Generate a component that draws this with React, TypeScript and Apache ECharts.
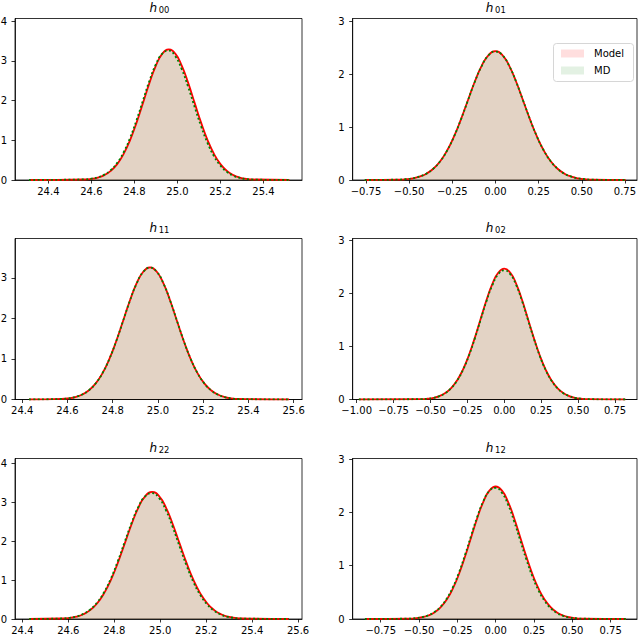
import { useEffect, useRef } from 'react';
import * as echarts from 'echarts';

// panel keys, row by row
const panelKeys = ['00', '01', '11', '02', '22', '12'];

// h00
const xs00 = [24.31, 24.57, 24.6, 24.63, 24.66, 24.69, 24.72, 24.75, 24.78, 24.81, 24.84, 24.87, 24.9, 24.93, 24.96, 24.99, 25.02, 25.05, 25.08, 25.11, 25.14, 25.17, 25.2, 25.23, 25.26, 25.29, 25.32, 25.35, 25.52];
const model00 = [0, 0.013, 0.029, 0.062, 0.123, 0.23, 0.401, 0.657, 1.007, 1.446, 1.944, 2.447, 2.885, 3.184, 3.29, 3.184, 2.885, 2.447, 1.944, 1.446, 1.007, 0.657, 0.401, 0.23, 0.123, 0.062, 0.029, 0.013, 0];
const md00 = [0, 0.015, 0.033, 0.069, 0.135, 0.25, 0.432, 0.7, 1.063, 1.51, 2.009, 2.503, 2.919, 3.187, 3.26, 3.118, 2.793, 2.343, 1.84, 1.353, 0.931, 0.6, 0.362, 0.205, 0.108, 0.054, 0.025, 0.011, 0];

// h01
const xs01 = [-0.757, -0.56, -0.52, -0.48, -0.44, -0.4, -0.36, -0.32, -0.28, -0.24, -0.2, -0.16, -0.12, -0.08, -0.04, 0, 0.04, 0.08, 0.12, 0.16, 0.2, 0.24, 0.28, 0.32, 0.36, 0.4, 0.44, 0.48, 0.52, 0.56, 0.754];
const model01 = [0, 0.007, 0.015, 0.032, 0.064, 0.12, 0.213, 0.355, 0.558, 0.825, 1.149, 1.507, 1.861, 2.163, 2.368, 2.44, 2.368, 2.163, 1.861, 1.507, 1.149, 0.825, 0.558, 0.355, 0.213, 0.12, 0.064, 0.032, 0.015, 0.007, 0];
const md01 = [0, 0.007, 0.016, 0.033, 0.065, 0.121, 0.214, 0.356, 0.558, 0.824, 1.147, 1.504, 1.857, 2.158, 2.362, 2.434, 2.364, 2.161, 1.86, 1.507, 1.15, 0.826, 0.559, 0.355, 0.213, 0.119, 0.063, 0.031, 0.015, 0.006, 0];

// h11
const xs11 = [24.43, 24.575, 24.605, 24.635, 24.665, 24.695, 24.725, 24.755, 24.785, 24.815, 24.845, 24.875, 24.905, 24.935, 24.965, 24.995, 25.025, 25.055, 25.085, 25.115, 25.145, 25.175, 25.205, 25.235, 25.265, 25.295, 25.325, 25.355, 25.58];
const model11 = [0, 0.013, 0.029, 0.061, 0.122, 0.228, 0.398, 0.651, 0.998, 1.433, 1.927, 2.425, 2.858, 3.155, 3.26, 3.155, 2.858, 2.425, 1.927, 1.433, 0.998, 0.651, 0.398, 0.228, 0.122, 0.061, 0.029, 0.013, 0];
const md11 = [0, 0.014, 0.03, 0.063, 0.124, 0.23, 0.4, 0.652, 0.998, 1.432, 1.925, 2.422, 2.853, 3.15, 3.255, 3.152, 2.857, 2.426, 1.929, 1.435, 1.0, 0.652, 0.398, 0.227, 0.121, 0.06, 0.028, 0.012, 0];

// h02
const xs02 = [-0.985, -0.56, -0.52, -0.48, -0.44, -0.4, -0.36, -0.32, -0.28, -0.24, -0.2, -0.16, -0.12, -0.08, -0.04, 0, 0.04, 0.08, 0.12, 0.16, 0.2, 0.24, 0.28, 0.32, 0.36, 0.4, 0.44, 0.48, 0.52, 0.56, 0.82];
const model02 = [0, 0.007, 0.015, 0.032, 0.065, 0.122, 0.216, 0.36, 0.565, 0.835, 1.164, 1.526, 1.884, 2.19, 2.397, 2.47, 2.397, 2.19, 1.884, 1.526, 1.164, 0.835, 0.565, 0.36, 0.216, 0.122, 0.065, 0.032, 0.015, 0.007, 0];
const md02 = [0, 0.007, 0.015, 0.032, 0.064, 0.12, 0.213, 0.355, 0.558, 0.825, 1.149, 1.507, 1.861, 2.163, 2.368, 2.44, 2.368, 2.163, 1.861, 1.507, 1.149, 0.825, 0.558, 0.355, 0.213, 0.12, 0.064, 0.032, 0.015, 0.007, 0];

// h22
const xs22 = [24.43, 24.575, 24.605, 24.635, 24.665, 24.695, 24.725, 24.755, 24.785, 24.815, 24.845, 24.875, 24.905, 24.935, 24.965, 24.995, 25.025, 25.055, 25.085, 25.115, 25.145, 25.175, 25.205, 25.235, 25.265, 25.295, 25.325, 25.355, 25.56];
const model22 = [0, 0.013, 0.029, 0.061, 0.122, 0.228, 0.399, 0.653, 1.001, 1.438, 1.933, 2.433, 2.867, 3.164, 3.27, 3.164, 2.867, 2.433, 1.933, 1.438, 1.001, 0.653, 0.399, 0.228, 0.122, 0.061, 0.029, 0.013, 0];
const md22 = [0, 0.014, 0.031, 0.066, 0.131, 0.242, 0.421, 0.683, 1.04, 1.482, 1.977, 2.469, 2.887, 3.161, 3.24, 3.11, 2.796, 2.353, 1.854, 1.368, 0.944, 0.611, 0.37, 0.21, 0.111, 0.055, 0.026, 0.012, 0];

// h12
const xs12 = [-0.853, -0.56, -0.52, -0.48, -0.44, -0.4, -0.36, -0.32, -0.28, -0.24, -0.2, -0.16, -0.12, -0.08, -0.04, 0, 0.04, 0.08, 0.12, 0.16, 0.2, 0.24, 0.28, 0.32, 0.36, 0.4, 0.44, 0.48, 0.52, 0.56, 0.85];
const model12 = [0, 0.007, 0.015, 0.033, 0.065, 0.122, 0.217, 0.362, 0.568, 0.84, 1.171, 1.535, 1.895, 2.203, 2.411, 2.485, 2.411, 2.203, 1.895, 1.535, 1.171, 0.84, 0.568, 0.362, 0.217, 0.122, 0.065, 0.033, 0.015, 0.007, 0];
const md12 = [0, 0.007, 0.017, 0.035, 0.07, 0.13, 0.229, 0.38, 0.592, 0.869, 1.203, 1.565, 1.919, 2.214, 2.406, 2.46, 2.369, 2.148, 1.834, 1.474, 1.115, 0.795, 0.533, 0.337, 0.2, 0.112, 0.059, 0.029, 0.014, 0.006, 0];

// tick labels
const xTicksA = [24.4, 24.6, 24.8, 25.0, 25.2, 25.4];
const xTicksB = [24.4, 24.6, 24.8, 25.0, 25.2, 25.4, 25.6];
const xTicksC = [-0.75, -0.5, -0.25, 0, 0.25, 0.5, 0.75];
const xTicksD = [-1, -0.75, -0.5, -0.25, 0, 0.25, 0.5, 0.75];
const yTicks4 = [0, 1, 2, 3, 4];
const yTicks3 = [0, 1, 2, 3];

const legendNames = ['Model', 'MD'];

const MODEL_FILL = 'rgba(255,0,0,0.13)';
const MD_FILL = 'rgba(0,128,0,0.11)';
const FONT = 'DejaVu Sans';

const panels = [
  { xs: xs00, model: model00, md: md00, xMin: 24.245, xMax: 25.579, yMax: 4.07, xTicks: xTicksA, yTicks: yTicks4, dec: 1 },
  { xs: xs01, model: model01, md: md01, xMin: -0.827, xMax: 0.82, yMax: 3.06, xTicks: xTicksC, yTicks: yTicks3, dec: 2 },
  { xs: xs11, model: model11, md: md11, xMin: 24.368, xMax: 25.637, yMax: 3.975, xTicks: xTicksB, yTicks: yTicks3, dec: 1 },
  { xs: xs02, model: model02, md: md02, xMin: -1.027, xMax: 0.899, yMax: 3.04, xTicks: xTicksD, yTicks: yTicks3, dec: 2 },
  { xs: xs22, model: model22, md: md22, xMin: 24.368, xMax: 25.617, yMax: 4.13, xTicks: xTicksB, yTicks: yTicks4, dec: 1 },
  { xs: xs12, model: model12, md: md12, xMin: -0.933, xMax: 0.922, yMax: 3.01, xTicks: xTicksC, yTicks: yTicks3, dec: 2 },
];

const colLeft = [15, 352.7];
const colWidth = [287, 284.3];
const rowTop = [18.5, 238.5, 458.5];
const rowHeight = [161.5, 161, 160.5];

const fmt = (d: number) => (v: number) => {
  const s = Math.abs(v).toFixed(d);
  return v < -1e-9 ? '\u2212' + s : s;
};

function buildOption(): echarts.EChartsOption {
  const grid: any[] = [];
  const xAxis: any[] = [];
  const yAxis: any[] = [];
  const series: any[] = [];
  const graphic: any[] = [];

  panels.forEach((p, i) => {
    const col = i % 2;
    const row = Math.floor(i / 2);
    const left = colLeft[col];
    const top = rowTop[row];
    grid.push({
      left,
      top,
      width: colWidth[col],
      height: rowHeight[row],
      show: true,
      borderColor: '#000',
      borderWidth: 0.8,
      backgroundColor: 'transparent',
      containLabel: false,
      outerBoundsMode: 'none',
    });
    const tickStyle = { color: '#000', width: 0.8 };
    xAxis.push({
      type: 'value',
      gridIndex: i,
      min: p.xMin,
      max: p.xMax,
      splitLine: { show: false },
      axisLine: { show: true, onZero: false, lineStyle: tickStyle },
      axisTick: { show: true, length: 3.5, lineStyle: tickStyle, customValues: p.xTicks },
      axisLabel: {
        customValues: p.xTicks,
        formatter: fmt(p.dec),
        fontSize: 10,
        fontFamily: FONT,
        color: '#000',
        margin: 6,
      },
    });
    yAxis.push({
      type: 'value',
      gridIndex: i,
      min: 0,
      max: p.yMax,
      splitLine: { show: false },
      axisLine: { show: true, onZero: false, lineStyle: tickStyle },
      axisTick: { show: true, length: 3.5, lineStyle: tickStyle, customValues: p.yTicks },
      axisLabel: {
        customValues: p.yTicks,
        formatter: (v: number) => String(Math.round(v)),
        fontSize: 10,
        fontFamily: FONT,
        color: '#000',
        margin: 8,
      },
    });

    const modelData = p.xs.map((x, j) => [x, p.model[j]]);
    const mdData = p.xs.map((x, j) => [x, p.md[j]]);
    const base = {
      type: 'line',
      xAxisIndex: i,
      yAxisIndex: i,
      symbol: 'none',
      smooth: 0.5,
      silent: true,
    };
    series.push({
      ...base,
      name: 'Model',
      data: modelData,
      lineStyle: { width: 0, opacity: 0 },
      areaStyle: { color: MODEL_FILL, opacity: 1 },
      z: 1,
    });
    series.push({
      ...base,
      name: 'MD',
      data: mdData,
      lineStyle: { width: 0, opacity: 0 },
      areaStyle: { color: MD_FILL, opacity: 1 },
      z: 2,
    });
    series.push({
      ...base,
      name: 'Model KDE',
      data: modelData,
      lineStyle: { color: '#ff0000', width: 1.8 },
      z: 3,
    });
    series.push({
      ...base,
      name: 'MD KDE',
      data: mdData,
      lineStyle: { color: '#008000', width: 1.8, type: [2, 2.4] },
      z: 4,
    });

    // title h_{ij}
    const cx = left + colWidth[col] / 2;
    const baseline = top - 6.3;
    graphic.push({
      type: 'text',
      x: cx - 1.5,
      y: baseline - 4.2,
      style: {
        text: 'h',
        fontSize: 12,
        fontStyle: 'italic',
        fontFamily: FONT,
        fill: '#000',
        textAlign: 'right',
        textVerticalAlign: 'middle',
      },
    });
    graphic.push({
      type: 'text',
      x: cx + 0.2,
      y: baseline - 2.5,
      style: {
        text: panelKeys[i],
        fontSize: 8.4,
        fontFamily: FONT,
        fill: '#000',
        textAlign: 'left',
        textVerticalAlign: 'middle',
      },
    });
  });

  // legend inside h01
  graphic.push({
    type: 'rect',
    shape: { x: 553.5, y: 43.5, width: 80, height: 38, r: 3 },
    style: { fill: 'rgba(255,255,255,0.8)', stroke: '#cccccc', lineWidth: 0.8 },
    z: 10,
  });
  [MODEL_FILL, MD_FILL].forEach((c, k) => {
    graphic.push({
      type: 'rect',
      shape: { x: 561, y: 49.5 + k * 17, width: 23, height: 8 },
      style: { fill: c },
      z: 11,
    });
    graphic.push({
      type: 'text',
      x: 594,
      y: 53.5 + k * 17,
      style: {
        text: legendNames[k],
        fontSize: 10,
        fontFamily: FONT,
        fill: '#000',
        textAlign: 'left',
        textVerticalAlign: 'middle',
      },
      z: 11,
    });
  });

  return {
    animation: false,
    backgroundColor: '#fff',
    grid,
    xAxis,
    yAxis,
    series,
    graphic,
  };
}

export default function App() {
  const chartRef = useRef<HTMLDivElement>(null);

  useEffect(() => {
    document.body.style.margin = '0';
    if (!chartRef.current) return;
    const chart = echarts.init(chartRef.current, undefined, { renderer: 'svg' });
    chart.setOption(buildOption());
    return () => {
      chart.dispose();
    };
  }, []);

  return <div ref={chartRef} style={{ width: 640, height: 638 }} />;
}
